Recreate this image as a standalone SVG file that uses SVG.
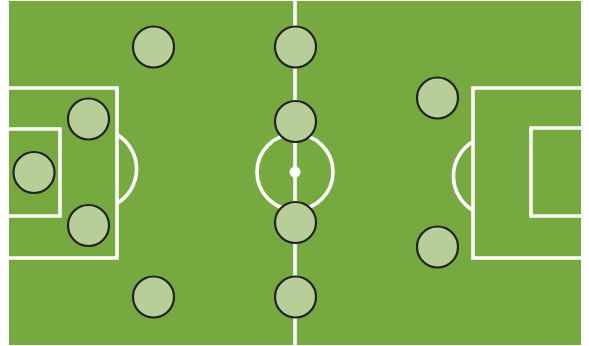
<svg xmlns="http://www.w3.org/2000/svg" width="589" height="346" viewBox="0 0 589 346">
<style>
.line{fill:none;stroke:#fff;stroke-width:3.6}
.p{fill:#b8ce98;stroke:#222;stroke-width:2.2}
</style>
<rect x="0" y="0" width="589" height="346" fill="#fff"/>
<g id="pitch">
<rect x="9" y="1" width="572" height="344" fill="#76aa41"/>
<line class="line" x1="295" y1="0" x2="295" y2="346"/>
<circle class="line" cx="295" cy="172" r="38"/>
<circle cx="295" cy="172" r="5.5" fill="#fff"/>
<polyline class="line" points="9,88 117,88 117,258 9,258"/>
<polyline class="line" points="9,129 60,129 60,216 9,216"/>
<path class="line" d="M117,134.6 A40,40 0 0 1 117,203.4"/>
<polyline class="line" points="581,88 473,88 473,258 581,258"/>
<polyline class="line" points="581,128 531,128 531,216 581,216"/>
<path class="line" d="M473,141.6 A40,40 0 0 0 473,210.4"/>
</g>
<g id="players">
<g id="p1"><circle class="p" cx="153.5" cy="47" r="20.5"/></g>
<g id="p2"><circle class="p" cx="88.5" cy="119" r="20.5"/></g>
<g id="p3"><circle class="p" cx="34" cy="172.5" r="20.5"/></g>
<g id="p4"><circle class="p" cx="88.5" cy="225.5" r="20.5"/></g>
<g id="p5"><circle class="p" cx="153.5" cy="297" r="20.5"/></g>
<g id="p6"><circle class="p" cx="295.5" cy="47" r="20.5"/></g>
<g id="p7"><circle class="p" cx="295.5" cy="121.5" r="20.5"/></g>
<g id="p8"><circle class="p" cx="295.5" cy="222.5" r="20.5"/></g>
<g id="p9"><circle class="p" cx="295.5" cy="297" r="20.5"/></g>
<g id="p10"><circle class="p" cx="437.5" cy="98" r="20.5"/></g>
<g id="p11"><circle class="p" cx="437.5" cy="247" r="20.5"/></g>
</g>
<g id="connectors"></g>
</svg>
